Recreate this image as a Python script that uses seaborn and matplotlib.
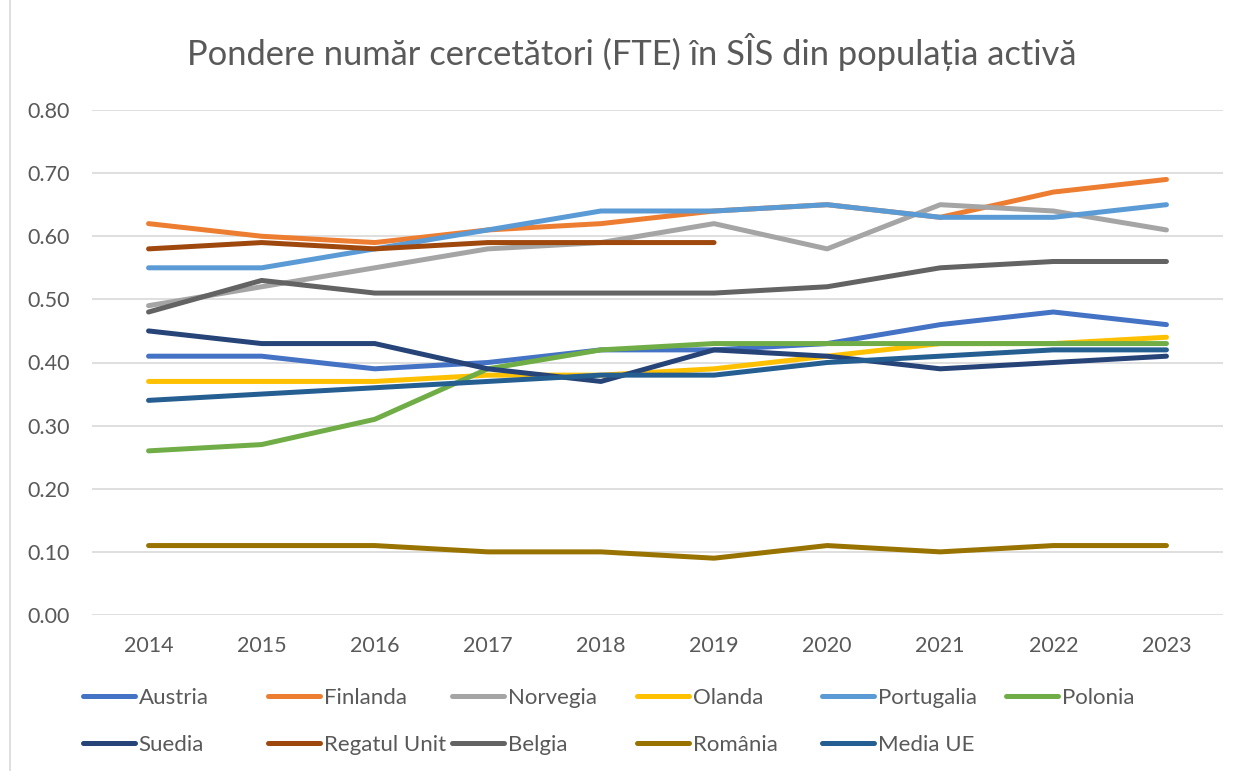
import numpy as np
import pandas as pd
import matplotlib
matplotlib.use("Agg")
import matplotlib.pyplot as plt
import seaborn as sns
from matplotlib.lines import Line2D

years = [2014, 2015, 2016, 2017, 2018, 2019, 2020, 2021, 2022, 2023]

austria     = [0.41, 0.41, 0.39, 0.40, 0.42, 0.42, 0.43, 0.46, 0.48, 0.46]
finlanda    = [0.62, 0.60, 0.59, 0.61, 0.62, 0.64, 0.65, 0.63, 0.67, 0.69]
norvegia    = [0.49, 0.52, 0.55, 0.58, 0.59, 0.62, 0.58, 0.65, 0.64, 0.61]
olanda      = [0.37, 0.37, 0.37, 0.38, 0.38, 0.39, 0.41, 0.43, 0.43, 0.44]
portugalia  = [0.55, 0.55, 0.58, 0.61, 0.64, 0.64, 0.65, 0.63, 0.63, 0.65]
polonia     = [0.26, 0.27, 0.31, 0.39, 0.42, 0.43, 0.43, 0.43, 0.43, 0.43]
suedia      = [0.45, 0.43, 0.43, 0.39, 0.37, 0.42, 0.41, 0.39, 0.40, 0.41]
regatul     = [0.58, 0.59, 0.58, 0.59, 0.59, 0.59, None, None, None, None]
belgia      = [0.48, 0.53, 0.51, 0.51, 0.51, 0.51, 0.52, 0.55, 0.56, 0.56]
romania     = [0.11, 0.11, 0.11, 0.10, 0.10, 0.09, 0.11, 0.10, 0.11, 0.11]
media_ue    = [0.34, 0.35, 0.36, 0.37, 0.38, 0.38, 0.40, 0.41, 0.42, 0.42]

series_names = ["Austria", "Finlanda", "Norvegia", "Olanda", "Portugalia", "Polonia",
                "Suedia", "Regatul Unit", "Belgia", "România", "Media UE"]
series_values = [austria, finlanda, norvegia, olanda, portugalia, polonia,
                 suedia, regatul, belgia, romania, media_ue]
colors = ["#4472C4", "#ED7D31", "#A5A5A5", "#FFC000", "#5B9BD5", "#70AD47",
          "#264478", "#9E480E", "#636363", "#997300", "#255E91"]

title = "Pondere număr cercetători (FTE) în SÎS din populația activă"

rows = []
for name, vals in zip(series_names, series_values):
    for y, v in zip(years, vals):
        if v is not None:
            rows.append({"An": y, "Valoare": v, "Tara": name})
df = pd.DataFrame(rows)

sns.set_theme(style="white")
plt.rcParams["font.family"] = ["Lato", "DejaVu Sans"]
text_color = "#595959"

W, H = 1239, 771
fig = plt.figure(figsize=(W / 100, H / 100), dpi=100)
ax = fig.add_axes([92 / W, 1 - 615 / H, (1223 - 92) / W, (615 - 110) / H])

palette = dict(zip(series_names, colors))
sns.lineplot(data=df, x="An", y="Valoare", hue="Tara", hue_order=series_names,
             palette=palette, linewidth=3.6, ax=ax, legend=False, sort=True,
             estimator=None)
for ln in ax.lines:
    ln.set_solid_capstyle("round")
    ln.set_solid_joinstyle("round")

ax.set_xlim(years[0] - 0.5, years[-1] + 0.5)
ax.set_ylim(0, 0.8)
ax.set_yticks(np.arange(0, 0.81, 0.1))
ax.set_yticklabels([f"{t:.2f}" for t in np.arange(0, 0.81, 0.1)])
ax.set_xticks(years)
ax.set_xticklabels([str(y) for y in years])
ax.tick_params(axis="both", length=0, labelsize=15.5, colors=text_color)
ax.tick_params(axis="y", pad=16)
ax.tick_params(axis="x", pad=15)
ax.yaxis.grid(True, color="#D9D9D9", linewidth=1.2)
ax.set_axisbelow(True)
for s in ax.spines.values():
    s.set_visible(False)
ax.set_xlabel("")
ax.set_ylabel("")

fig.text(632 / W, 1 - 52 / H, title, ha="center", va="center",
         fontsize=24.8, color=text_color)

# left border of chart area
fig.add_artist(Line2D([10 / W, 10 / W], [0, 1], transform=fig.transFigure,
                      color="#D9D9D9", linewidth=1.2))

# legend: fixed-width columns like Excel
col_x = [83, 268, 452, 637, 822, 1006]
row_y = [698, 745]
handles = {ln_name: Line2D([], [], color=c, linewidth=3.6, solid_capstyle="round")
           for ln_name, c in zip(series_names, colors)}
for i, name in enumerate(series_names):
    r, c = divmod(i, 6)
    leg = fig.legend([handles[name]], [name], loc="center left",
                     bbox_to_anchor=(col_x[c] / W, 1 - row_y[r] / H),
                     frameon=False, fontsize=16, handlelength=2.35,
                     handletextpad=0.15, borderpad=0, borderaxespad=0)
    for t in leg.get_texts():
        t.set_color(text_color)

fig.savefig("out.png", dpi=100, facecolor="white")
